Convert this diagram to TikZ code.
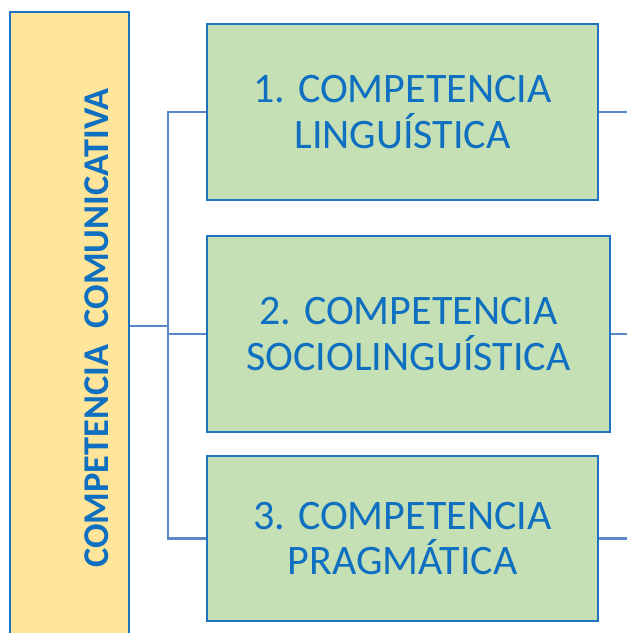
\documentclass[tikz,border=0pt]{standalone}
\usepackage{fontspec}
\setmainfont{Carlito}
\definecolor{txtblue}{HTML}{0F6FC0}
\definecolor{edgeblue}{HTML}{1F73C0}
\definecolor{linkblue}{HTML}{5A88C4}
\definecolor{yellowfill}{HTML}{FFE599}
\definecolor{greenfill}{HTML}{C5E0B4}
\tikzset{
  mainbox/.style={draw=edgeblue, line width=2.5pt, fill=yellowfill, inner sep=0pt},
  compbox/.style={draw=edgeblue, line width=2.5pt, fill=greenfill, inner sep=0pt,
    font=\fontsize{42}{45.5}\selectfont, text=txtblue, align=center},
  link/.style={draw=linkblue, line width=2.4pt}
}
\begin{document}
\begin{tikzpicture}[x=1pt,y=-1pt]
\useasboundingbox (0,0) rectangle (627,633);
\clip (0,0) rectangle (627,633);
\node[mainbox, minimum width=119pt, minimum height=628pt] (main) at (69.5,326) {};
\node[rotate=90, inner sep=0pt, text=txtblue, font=\fontsize{36.3}{40}\selectfont\bfseries] (maintext) at (96.5,328) {COMPETENCIA\ \ COMUNICATIVA};
\node[compbox, minimum width=391pt, minimum height=176pt] (b1) at (402.5,112) {1. COMPETENCIA\\LINGUÍSTICA};
\node[compbox, minimum width=403pt, minimum height=196pt] (b2) at (408.5,334) {2. COMPETENCIA\\SOCIOLINGUÍSTICA};
\node[compbox, minimum width=391pt, minimum height=165pt] (b3) at (402.5,538.5) {3. COMPETENCIA\\PRAGMÁTICA};
\coordinate (j) at (168,326);
\coordinate (edge) at (630,0);
\draw[link] (main.east) -- (j);
\draw[link] (b1.west) -- (b1.west -| j) -- (b3.west -| j) -- (b3.west);
\draw[link] (b2.west) -- (b2.west -| j);
\draw[link] (b1.east) -- (b1.east -| edge);
\draw[link] (b2.east) -- (b2.east -| edge);
\draw[link] (b3.east) -- (b3.east -| edge);
\end{tikzpicture}
\end{document}
